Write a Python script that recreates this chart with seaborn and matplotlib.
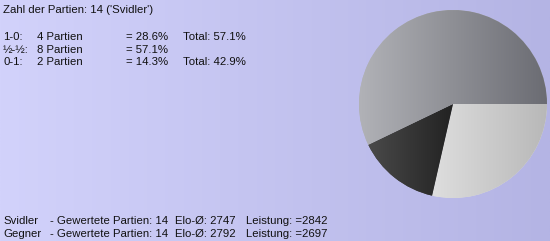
import numpy as np
import matplotlib
matplotlib.use("Agg")
import matplotlib.pyplot as plt
from matplotlib.colors import LinearSegmentedColormap
import seaborn as sns

# ---- data ----
player = "Svidler"
total_games = 14
result_labels = ["1-0:", "½-½:", "0-1:"]
result_counts = [4, 8, 2]
result_pcts = ["= 28.6%", "= 57.1%", "= 14.3%"]
result_totals = ["Total: 57.1%", "", "Total: 42.9%"]
# pie order (clockwise from 3 o'clock): wins, losses, draws
pie_labels = ["1-0", "0-1", "½-½"]
pie_values = [4, 2, 8]
pie_left_colors = ["#dedede", "#4a4a4a", "#b1b2b7"]
pie_right_colors = ["#b8b8b8", "#222222", "#6b6c73"]
summary_names = ["Svidler", "Gegner"]
summary_games = [14, 14]
summary_elo = [2747, 2792]
summary_perf = [2842, 2697]

sns.set_theme(style="white")
plt.rcParams['font.family'] = ['Liberation Sans', 'DejaVu Sans']

W, H = 550, 241
fig = plt.figure(figsize=(W / 100, H / 100), dpi=100)

# background gradient
bg = fig.add_axes([0, 0, 1, 1], zorder=0)
bg_cmap = LinearSegmentedColormap.from_list("bg", ["#d2d2fb", "#b4b4e4"])
bg.imshow(np.linspace(0, 1, 256)[None, :], aspect="auto", cmap=bg_cmap,
          extent=[0, 1, 0, 1])
bg.set_axis_off()

def px(x, y):
    return x / W, 1 - y / H

fs = 8.2
fig.text(*px(3, 10), f"Zahl der Partien: {total_games} ('{player}')",
         fontsize=fs, va="center", color="#111111")
ys = [37, 50, 62]
for i in range(3):
    fig.text(*px(3, ys[i]), result_labels[i], fontsize=fs, va="center", color="#111111")
    fig.text(*px(37, ys[i]), f"{result_counts[i]} Partien", fontsize=fs, va="center", color="#111111")
    fig.text(*px(126, ys[i]), result_pcts[i], fontsize=fs, va="center", color="#111111")
    if result_totals[i]:
        fig.text(*px(183, ys[i]), result_totals[i], fontsize=fs, va="center", color="#111111")

bys = [221, 234]
for i in range(2):
    fig.text(*px(3, bys[i]), summary_names[i], fontsize=fs, va="center", color="#111111")
    fig.text(*px(50, bys[i]), f"- Gewertete Partien: {summary_games[i]}", fontsize=fs, va="center", color="#111111")
    fig.text(*px(175, bys[i]), f"Elo-Ø: {summary_elo[i]}", fontsize=fs, va="center", color="#111111")
    fig.text(*px(246, bys[i]), f"Leistung: ={summary_perf[i]}", fontsize=fs, va="center", color="#111111")

# pie
cx, cy, r = 453, 104, 94
ax = fig.add_axes([(cx - r) / W, (H - cy - r) / H, 2 * r / W, 2 * r / H], zorder=1)
wedges, _ = ax.pie(pie_values, startangle=0, counterclock=False,
                   colors=pie_left_colors, wedgeprops=dict(linewidth=0))
for w, c1, c2 in zip(wedges, pie_left_colors, pie_right_colors):
    verts = w.get_path().vertices
    x0, x1 = verts[:, 0].min(), verts[:, 0].max()
    y0, y1 = verts[:, 1].min(), verts[:, 1].max()
    cmap = LinearSegmentedColormap.from_list("g", [c1, c2])
    im = ax.imshow(np.linspace(0, 1, 256)[None, :], aspect="auto", cmap=cmap,
                   extent=[x0, x1, y0, y1], zorder=2)
    im.set_clip_path(w)
ax.set_xlim(-1, 1)
ax.set_ylim(-1, 1)
ax.set_axis_off()

fig.savefig("out.png", dpi=100)
